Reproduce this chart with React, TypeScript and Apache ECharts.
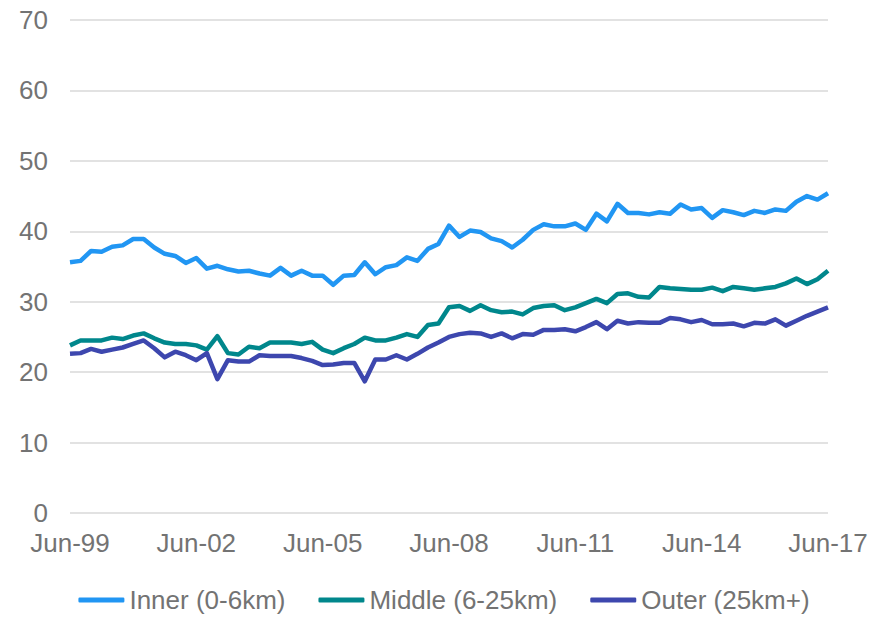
import React, { useEffect, useRef } from "react";
import * as echarts from "echarts";

const MONTHS = ["Mar", "Jun", "Sep", "Dec"];
// Quarterly periods Jun-99 .. Jun-17 (73 points)
const categories: string[] = [];
for (let q = 1; q <= 1 + 72; q++) {
  const yr = 1999 + Math.floor(q / 4);
  const m = MONTHS[q % 4];
  categories.push(`${m}-${String(yr % 100).padStart(2, "0")}`);
}

const inner = [
  35.6, 35.8, 37.2, 37.1, 37.8, 38.0, 38.9, 38.9, 37.7, 36.8, 36.5, 35.5,
  36.2, 34.7, 35.1, 34.6, 34.3, 34.4, 34.0, 33.7, 34.8, 33.7, 34.4, 33.7,
  33.7, 32.4, 33.7, 33.8, 35.6, 33.9, 34.9, 35.2, 36.3, 35.8, 37.5, 38.2,
  40.8, 39.2, 40.1, 39.9, 39.0, 38.6, 37.7, 38.8, 40.2, 41.0, 40.7, 40.7,
  41.1, 40.2, 42.5, 41.4, 43.9, 42.6, 42.6, 42.4, 42.7, 42.5, 43.8, 43.1,
  43.3, 41.9, 43.0, 42.7, 42.3, 42.9, 42.6, 43.1, 42.9, 44.2, 45.0, 44.5,
  45.4,
];

const middle = [
  23.8, 24.5, 24.5, 24.5, 24.9, 24.7, 25.2, 25.5, 24.8, 24.2, 24.0, 24.0,
  23.8, 23.2, 25.1, 22.7, 22.5, 23.6, 23.4, 24.2, 24.2, 24.2, 24.0, 24.3,
  23.2, 22.7, 23.4, 24.0, 24.9, 24.5, 24.5, 24.9, 25.4, 25.0, 26.7, 26.9,
  29.2, 29.4, 28.7, 29.5, 28.8, 28.5, 28.6, 28.2, 29.1, 29.4, 29.5, 28.8,
  29.2, 29.8, 30.4, 29.8, 31.1, 31.2, 30.7, 30.6, 32.1, 31.9, 31.8, 31.7,
  31.7, 32.0, 31.5, 32.1, 31.9, 31.7, 31.9, 32.1, 32.6, 33.3, 32.5, 33.2,
  34.4,
];

const outer = [
  22.6, 22.7, 23.3, 22.9, 23.2, 23.5, 24.0, 24.5, 23.4, 22.1, 22.9, 22.4,
  21.7, 22.7, 19.0, 21.7, 21.5, 21.5, 22.4, 22.3, 22.3, 22.3, 22.0, 21.6,
  21.0, 21.1, 21.3, 21.3, 18.7, 21.8, 21.8, 22.4, 21.8, 22.6, 23.5, 24.2,
  25.0, 25.4, 25.6, 25.5, 25.0, 25.5, 24.8, 25.4, 25.3, 26.0, 26.0, 26.1,
  25.8, 26.4, 27.1, 26.1, 27.3, 26.9, 27.1, 27.0, 27.0, 27.7, 27.5, 27.1,
  27.4, 26.8, 26.8, 26.9, 26.5, 27.0, 26.9, 27.5, 26.6, 27.3, 28.0, 28.6,
  29.2,
];

const seriesNames = ["Inner (0-6km)", "Middle (6-25km)", "Outer (25km+)"];
const seriesColors = ["#2196F3", "#00878C", "#3D47AE"];
const seriesData = [inner, middle, outer];

const FONT = "'Liberation Sans', Arial, sans-serif";
const TEXT_COLOR = "#737373";

export default function App() {
  const ref = useRef<HTMLDivElement>(null);
  useEffect(() => {
    if (!ref.current) return;
    const chart = echarts.init(ref.current, undefined, { renderer: "svg" });
    chart.setOption({
      animation: false,
      backgroundColor: "#ffffff",
      textStyle: { fontFamily: FONT },
      grid: { left: 70, right: 60, top: 20, bottom: 104, containLabel: false },
      xAxis: {
        type: "category",
        data: categories,
        boundaryGap: false,
        axisLine: { show: false },
        axisTick: { show: false },
        axisLabel: {
          interval: (i: number) => i % 12 === 0,
          color: TEXT_COLOR,
          fontSize: 26,
          fontFamily: FONT,
          margin: 17,
        },
        splitLine: { show: false },
      },
      yAxis: {
        type: "value",
        min: 0,
        max: 70,
        interval: 10,
        axisLine: { show: false },
        axisTick: { show: false },
        axisLabel: {
          color: TEXT_COLOR,
          fontSize: 26,
          fontFamily: FONT,
          margin: 22,
        },
        splitLine: { lineStyle: { color: "#d9d9d9", width: 1.5 } },
      },
      legend: {
        top: 585,
        left: "center",
        padding: 0,
        icon: "roundRect",
        itemWidth: 46,
        itemHeight: 5,
        itemGap: 33,
        textStyle: {
          color: TEXT_COLOR,
          fontSize: 26,
          fontFamily: FONT,
          lineHeight: 30,
        },
        data: seriesNames,
      },
      series: seriesNames.map((name, k) => ({
        name,
        type: "line",
        data: seriesData[k],
        showSymbol: false,
        symbol: "none",
        color: seriesColors[k],
        lineStyle: { width: 4.5, color: seriesColors[k], join: "round" },
      })),
    });
    return () => chart.dispose();
  }, []);
  return (
    <div
      ref={ref}
      style={{ position: "fixed", left: 0, top: 0, width: 888, height: 617 }}
    />
  );
}
